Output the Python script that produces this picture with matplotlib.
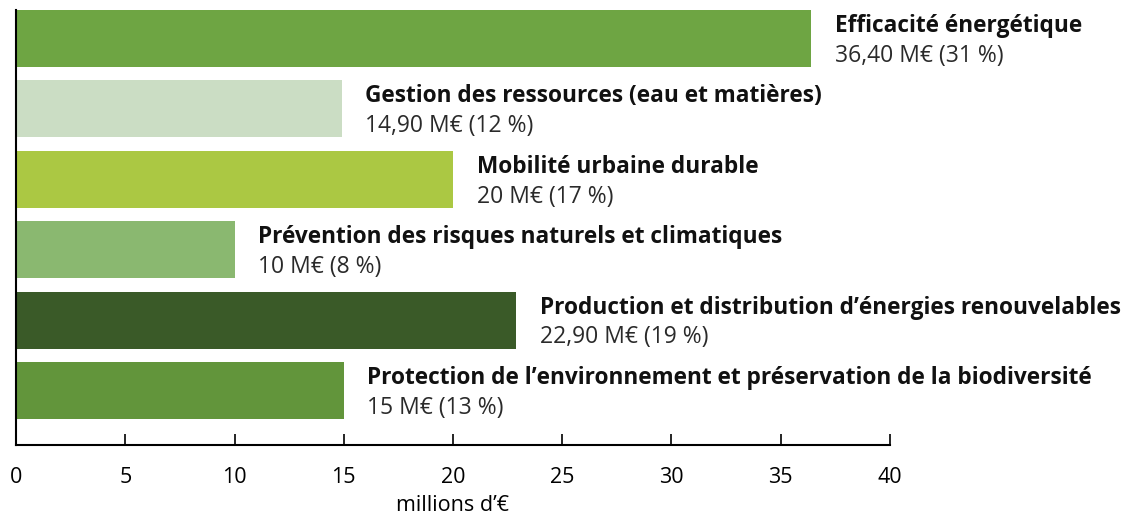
import matplotlib.pyplot as plt

categories = [
    "Efficacité énergétique",
    "Gestion des ressources (eau et matières)",
    "Mobilité urbaine durable",
    "Prévention des risques naturels et climatiques",
    "Production et distribution d’énergies renouvelables",
    "Protection de l’environnement et préservation de la biodiversité",
]
values = [36.40, 14.90, 20, 10, 22.90, 15]
value_labels = ["36,40 M€ (31 %)", "14,90 M€ (12 %)", "20 M€ (17 %)",
                "10 M€ (8 %)", "22,90 M€ (19 %)", "15 M€ (13 %)"]
colors = ["#6ea543", "#cbddc4", "#abc843", "#8ab870", "#3a5a28", "#62953b"]
xticks = [0, 5, 10, 15, 20, 25, 30, 35, 40]

plt.rcParams['font.family'] = ['Open Sans', 'DejaVu Sans']

fig = plt.figure(figsize=(11.27, 5.17), dpi=100)
ax = fig.add_axes([0.0142, 0.1393, 0.7755, 0.8414])

pos = list(range(len(values)))
ax.barh(pos, values, height=0.81, color=colors)

for i, v in enumerate(values):
    ax.annotate(categories[i], (v, i), xytext=(17, 9), textcoords='offset points',
                fontsize=16.3, fontweight='bold', va='center', ha='left',
                color='#111111', annotation_clip=False)
    ax.annotate(value_labels[i], (v, i), xytext=(17, -12.5), textcoords='offset points',
                fontsize=16.5, va='center', ha='left', color='#2a2a2a',
                annotation_clip=False)

ax.set_xlim(0, 40)
ax.set_ylim(5.774, -0.405)
ax.set_yticks([])
ax.set_xticks(xticks)
ax.tick_params(axis='x', direction='in', length=8, width=1.2, labelsize=15.5, pad=16)
ax.spines['top'].set_visible(False)
ax.spines['right'].set_visible(False)
ax.spines['left'].set_linewidth(1.5)
ax.spines['bottom'].set_linewidth(1.5)
ax.set_xlabel("millions d’€", fontsize=15.5, labelpad=5)

fig.savefig("out.png", dpi=100)
